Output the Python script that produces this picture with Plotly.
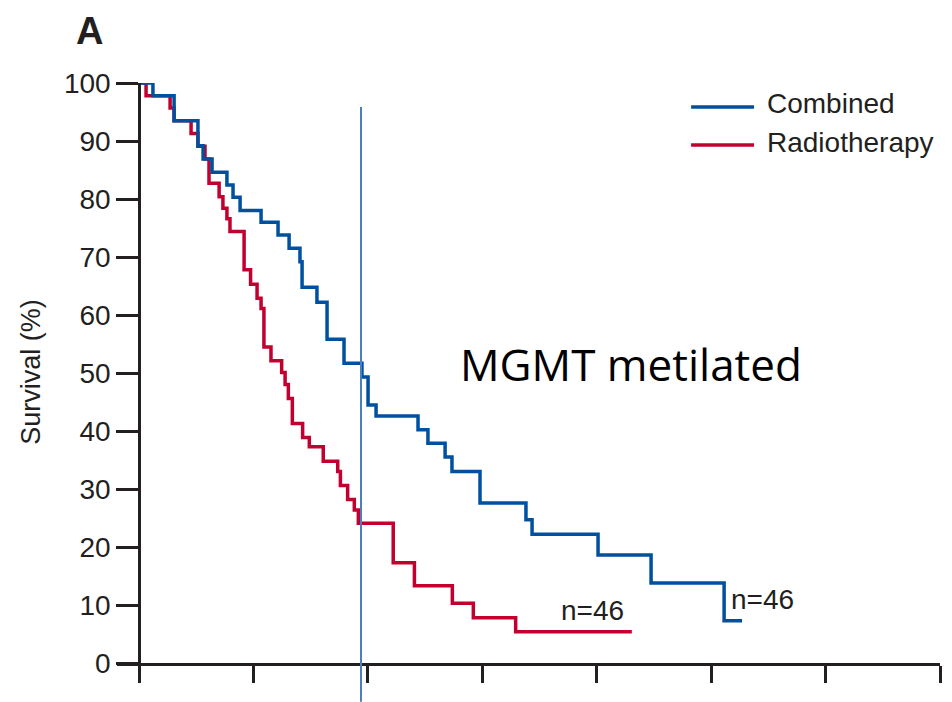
import plotly.graph_objects as go

# ---- data (months, survival %) ----
combined_t = [0, 0.73, 1.84, 3.09, 3.36, 3.83, 4.61, 4.93, 5.30, 6.40, 7.29, 7.87, 8.44, 8.55,
              9.33, 9.86, 10.75, 11.69, 12.01, 12.43, 14.63, 15.15, 16.05, 16.41, 17.88,
              20.29, 20.61, 24.07, 26.85, 30.68, 31.62]
combined_s = [100, 97.8, 93.5, 89.2, 86.9, 84.6, 82.4, 80.3, 78.0, 76.0, 73.8, 71.5, 69.2, 64.8,
              62.2, 55.8, 51.7, 49.3, 44.5, 42.6, 40.2, 37.9, 35.5, 33.0, 27.6,
              24.7, 22.2, 18.6, 13.8, 7.3, 7.3]

radio_t = [0, 0.37, 1.63, 1.84, 2.73, 3.09, 3.46, 3.67, 4.20, 4.40, 4.61, 4.77, 5.51, 5.85,
           6.19, 6.40, 6.55, 6.92, 7.48, 7.66, 7.83, 8.04, 8.58, 8.93, 9.66, 10.42, 10.56,
           10.94, 11.29, 11.50, 13.33, 14.44, 16.43, 17.53, 19.75, 25.84]
radio_s = [100, 97.8, 95.7, 93.5, 91.3, 89.1, 86.9, 82.7, 80.4, 78.4, 76.6, 74.4, 67.8, 65.3,
           62.9, 61.1, 54.5, 52.1, 50.1, 48.0, 45.6, 41.3, 38.9, 37.3, 34.8, 33.0, 30.6,
           28.2, 26.4, 24.1, 17.3, 13.3, 10.3, 7.8, 5.4, 5.4]

series_names = ["Combined", "Radiotherapy"]
x_ticks = [0, 6, 12, 18, 24, 30, 36, 42]
y_ticks = [0, 10, 20, 30, 40, 50, 60, 70, 80, 90, 100]
ref_month = 11.64
p_text = "p=0·004"
n_text = ["n=46", "n=46"]
n_pos = [(30.94, 10.9), (22.02, 9.0)]

BLUE = "#0050a0"
RED = "#c1002f"
AX = "#231f20"
XMIN, XMAX = -1.154, 42

fig = go.Figure()
fig.add_trace(go.Scatter(x=radio_t, y=radio_s, mode="lines", line_shape="hv",
                         line=dict(color=RED, width=3.5), name=series_names[1], cliponaxis=False))
fig.add_trace(go.Scatter(x=combined_t, y=combined_s, mode="lines", line_shape="hv",
                         line=dict(color=BLUE, width=3.5), name=series_names[0], cliponaxis=False))

def px_x(v):
    return (v - XMIN) / (XMAX - XMIN)

shapes = [
    dict(type="line", xref="paper", yref="paper", x0=px_x(ref_month), x1=px_x(ref_month),
         y0=-0.067, y1=0.9586, line=dict(color="#4a80c0", width=2)),
    dict(type="line", xref="x", yref="y", x0=28.95, x1=32.25, y0=95.86, y1=95.86,
         line=dict(color=BLUE, width=3.5)),
    dict(type="line", xref="x", yref="y", x0=28.95, x1=32.25, y0=89.31, y1=89.31,
         line=dict(color=RED, width=3.5)),
]

font_main = "Liberation Sans, Arial, sans-serif"
ann = [
    dict(x=32.82, y=96.55, xref="x", yref="y", text=series_names[0], showarrow=False,
         xanchor="left", yanchor="middle", font=dict(size=28, color=AX, family=font_main)),
    dict(x=32.82, y=89.8, xref="x", yref="y", text=series_names[1], showarrow=False,
         xanchor="left", yanchor="middle", font=dict(size=28, color=AX, family=font_main)),
    dict(x=42.52, y=70.7, xref="x", yref="y", text=p_text, showarrow=False,
         xanchor="right", yanchor="middle", font=dict(size=28, color=AX, family=font_main)),
    dict(x=16.73, y=51.6, xref="x", yref="y", text="MGMT metilated", showarrow=False,
         xanchor="left", yanchor="middle", font=dict(size=44, color="#000000", family="Open Sans, sans-serif")),
    dict(x=n_pos[0][0], y=n_pos[0][1], xref="x", yref="y", text=n_text[0], showarrow=False,
         xanchor="left", yanchor="middle", font=dict(size=28, color=AX, family=font_main)),
    dict(x=n_pos[1][0], y=n_pos[1][1], xref="x", yref="y", text=n_text[1], showarrow=False,
         xanchor="left", yanchor="middle", font=dict(size=28, color=AX, family=font_main)),
    dict(x=-0.1045, y=0.502, xref="paper", yref="paper", text="Survival (%)", showarrow=False,
         textangle=-90, xanchor="center", yanchor="middle",
         font=dict(size=27, color=AX, family=font_main)),
    dict(x=-0.033, y=1.09, xref="paper", yref="paper", text="<b>A</b>", showarrow=False,
         xanchor="center", yanchor="middle", font=dict(size=38, color=AX, family=font_main)),
]

fig.update_layout(
    width=952, height=702,
    margin=dict(l=117, r=12, t=83, b=39),
    paper_bgcolor="white", plot_bgcolor="white",
    showlegend=False,
    shapes=shapes, annotations=ann,
    xaxis=dict(range=[XMIN, XMAX], tickvals=x_ticks, showticklabels=False,
               ticks="outside", ticklen=17, tickwidth=3, tickcolor=AX,
               showline=True, linecolor=AX, linewidth=3, showgrid=False, zeroline=False),
    yaxis=dict(range=[0, 100], tickvals=y_ticks, anchor="free", position=px_x(0),
               ticks="outside", ticklen=22, tickwidth=3, tickcolor=AX,
               showline=True, linecolor=AX, linewidth=2.5, showgrid=False, zeroline=False,
               tickfont=dict(size=28, color=AX, family=font_main)),
)

fig.write_html("out.html")
